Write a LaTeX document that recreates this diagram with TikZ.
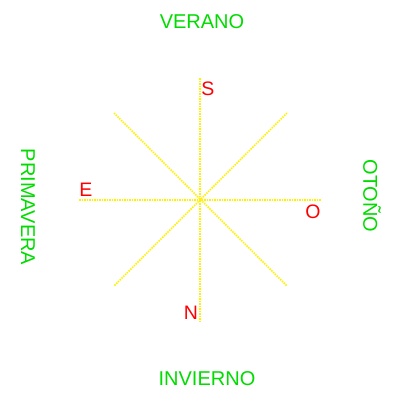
\documentclass[tikz,border=0pt]{standalone}
\usepackage{fontspec}
\setmainfont{Liberation Sans}
\definecolor{seasongreen}{RGB}{0,220,0}
\definecolor{dirred}{RGB}{255,0,0}
\definecolor{rayyellow}{RGB}{255,240,0}
\tikzset{
  ray/.style={draw=rayyellow, line width=1.5pt, dash pattern=on 1.5pt off 1pt},
  season/.style={text=seasongreen, inner sep=0pt, font=\fontsize{20}{20}\selectfont},
  dirlabel/.style={text=dirred, inner sep=0pt, font=\fontsize{19.5}{19.5}\selectfont}
}
\begin{document}
\begin{tikzpicture}[x=1pt,y=-1pt]
\useasboundingbox (0,0) rectangle (400,400);
\coordinate (c) at (200,200);
\coordinate (top) at (200,78);
\coordinate (bot) at (200,321);
\coordinate (lft) at (79,200);
\coordinate (rgt) at (321,200);
\coordinate (tl) at (114,113);
\coordinate (br) at (287,286);
\coordinate (tr) at (287,113);
\coordinate (bl) at (114,286);
\draw[ray] (top) -- (bot);
\draw[ray] (lft) -- (rgt);
\draw[ray] (tl) -- (br);
\draw[ray] (tr) -- (bl);
\node[dirlabel] (s) at (208,89) {S};
\node[dirlabel] (e) at (86,190) {E};
\node[dirlabel] (o) at (313,212) {O};
\node[dirlabel] (n) at (191,313) {N};
\node[season] (ver) at (202,22) {VERANO};
\node[season] (inv) at (207,379) {INVIERNO};
\node[season, rotate=-90] (pri) at (28,207) {PRIMAVERA};
\node[season, rotate=-90] (oto) at (372,196) {OTOÑO};
\end{tikzpicture}
\end{document}
